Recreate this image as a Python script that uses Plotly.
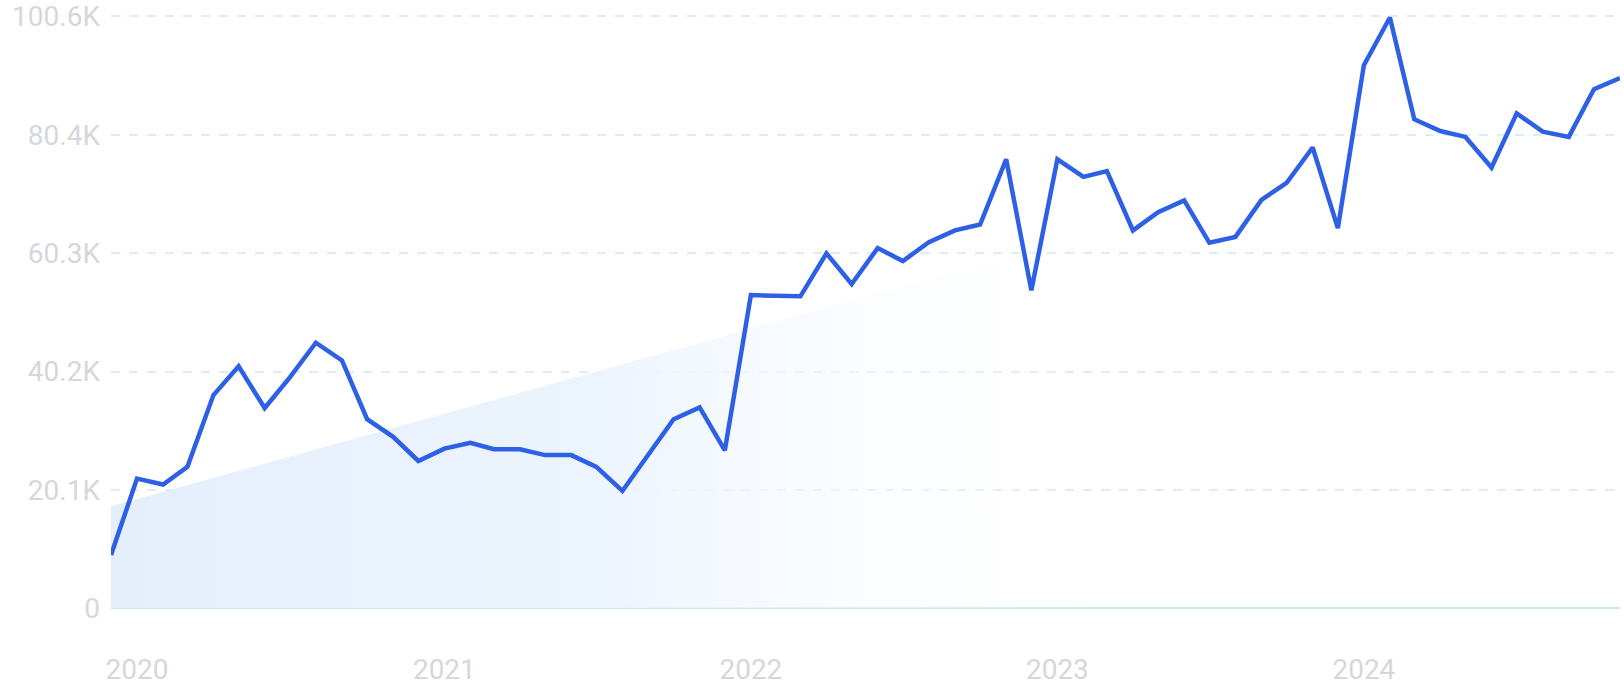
import plotly.graph_objects as go
import pandas as pd

# Monthly values, Dec 2019 .. Nov 2024
months = pd.date_range("2019-12-01", "2024-11-01", freq="MS").strftime("%Y-%m-%d").tolist()
values = [
    9000, 22000, 21000, 24000, 36200, 41100, 34000, 39200, 45100, 42100, 32100, 29100,
    25000, 27100, 28100, 27000, 27000, 26000, 26000, 24000, 19900, 26000, 32100, 34100,
    26800, 53200, 53100, 53000, 60300, 55100, 61200, 59000, 62200, 64200, 65200, 76300,
    54000, 76300, 73300, 74300, 64200, 67300, 69300, 62100, 63100, 69400, 72300, 78300,
    64600, 92300, 100400, 83100, 81100, 80100, 74900, 84100, 81000, 80100, 88200, 90100,
]

# Trend band (start / end values)
trend_x = ["2019-12-01", "2024-11-01"]
trend_y = [17300, 88500]

y_tickvals = [0, 20100, 40200, 60300, 80400, 100600]
y_ticktext = ["0", "20.1K", "40.2K", "60.3K", "80.4K", "100.6K"]
x_tickvals = ["2020-01-01", "2021-01-01", "2022-01-01", "2023-01-01", "2024-01-01"]
x_ticktext = ["2020", "2021", "2022", "2023", "2024"]

fig = go.Figure()

fig.add_trace(go.Scatter(
    x=trend_x, y=trend_y, mode="lines", fill="tozeroy",
    line=dict(width=0, color="rgba(0,0,0,0)"),
    fillgradient=dict(
        type="horizontal",
        colorscale=[[0, "rgba(229,239,252,1)"], [0.32, "rgba(236,244,253,1)"],
                    [0.66, "rgba(255,255,255,0)"], [1, "rgba(255,255,255,0)"]],
    ),
    hoverinfo="skip", showlegend=False,
))

fig.add_trace(go.Scatter(
    x=months, y=values, mode="lines",
    line=dict(color="#2e60e6", width=4.5),
    showlegend=False,
))

tick_font = dict(family="Roboto", size=28, color="#d5d7dd")

fig.update_layout(
    width=1624, height=700,
    margin=dict(l=111, r=4, t=14, b=92),
    paper_bgcolor="white", plot_bgcolor="white",
    xaxis=dict(
        range=["2019-12-01", "2024-11-01"],
        tickvals=x_tickvals, ticktext=x_ticktext,
        tickfont=tick_font, showgrid=False, zeroline=False,
        showline=False, ticks="", ticklabelstandoff=42,
        automargin=False,
    ),
    yaxis=dict(
        range=[0, 101000],
        tickvals=y_tickvals, ticktext=y_ticktext,
        tickfont=tick_font, showgrid=True, gridcolor="#dbedf9",
        gridwidth=2, griddash="dash",
        zeroline=True, zerolinecolor="#cfe7f7", zerolinewidth=2,
        showline=False, ticks="", ticklabelstandoff=10,
        ticklabeloverflow="allow", automargin=False,
    ),
)

fig.write_html(
    "out.html",
    config={"displayModeBar": False},
    post_script="document.body.style.margin='0';document.body.style.padding='0';",
)
